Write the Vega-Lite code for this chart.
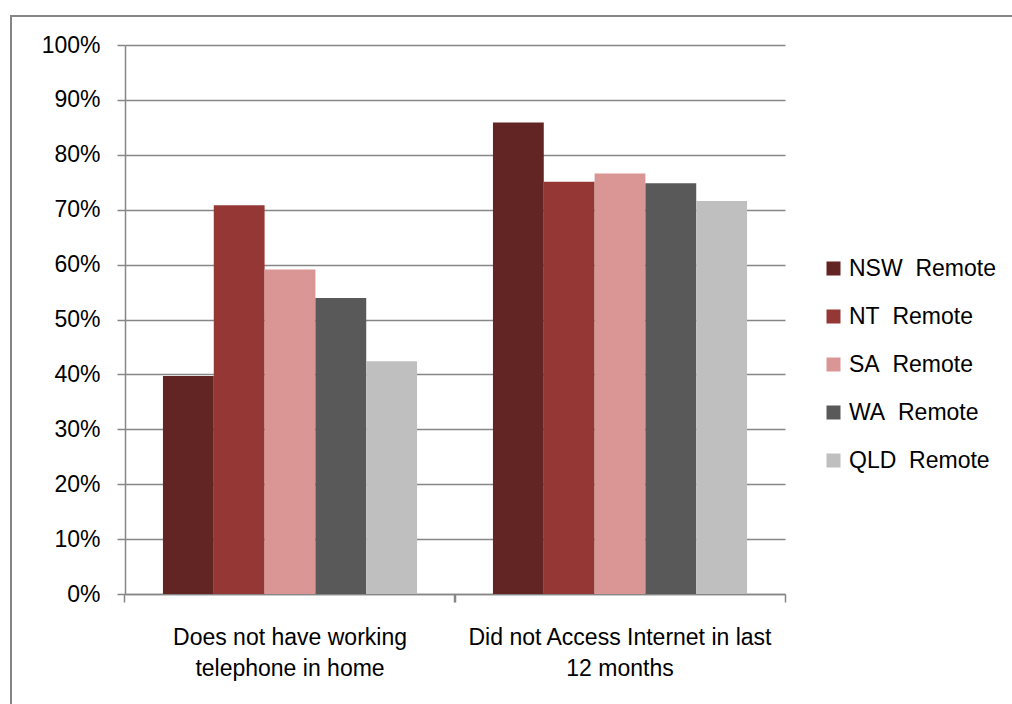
{
  "$schema": "https://vega.github.io/schema/vega-lite/v6.json",
  "width": 1010,
  "height": 700,
  "autosize": {"type": "none"},
  "padding": {"left": 11, "top": 16, "right": 0, "bottom": 0},
  "background": "white",
  "config": {
    "view": {"stroke": "#868686", "strokeWidth": 2},
    "font": "Liberation Sans"
  },
  "data": {
    "values": [
      {"category": "Does not have working|telephone in home", "state": "NSW\u00a0 Remote", "value": 0.397},
      {"category": "Does not have working|telephone in home", "state": "NT\u00a0 Remote", "value": 0.708},
      {"category": "Does not have working|telephone in home", "state": "SA\u00a0 Remote", "value": 0.591},
      {"category": "Does not have working|telephone in home", "state": "WA\u00a0 Remote", "value": 0.539},
      {"category": "Does not have working|telephone in home", "state": "QLD\u00a0 Remote", "value": 0.424},
      {"category": "Did not Access Internet in last|12 months", "state": "NSW\u00a0 Remote", "value": 0.859},
      {"category": "Did not Access Internet in last|12 months", "state": "NT\u00a0 Remote", "value": 0.751},
      {"category": "Did not Access Internet in last|12 months", "state": "SA\u00a0 Remote", "value": 0.766},
      {"category": "Did not Access Internet in last|12 months", "state": "WA\u00a0 Remote", "value": 0.748},
      {"category": "Did not Access Internet in last|12 months", "state": "QLD\u00a0 Remote", "value": 0.716}
    ]
  },
  "layer": [
    {
      "mark": {"type": "bar"},
      "encoding": {
        "x": {
          "field": "category",
          "type": "nominal",
          "sort": ["Does not have working|telephone in home", "Did not Access Internet in last|12 months"],
          "scale": {"range": [114, 774], "paddingInner": 0.23, "paddingOuter": 0.115},
          "axis": {
            "orient": "bottom",
            "offset": -122,
            "title": null,
            "labelExpr": "split(datum.label, '|')",
            "labelAngle": 0,
            "labelFontSize": 23,
            "labelLimit": 500,
            "labelColor": "#000000",
            "labelBaseline": "top",
            "labelPadding": 32,
            "labelLineHeight": 31,
            "ticks": false,
            "tickSize": 0,
            "grid": false,
            "domain": true,
            "domainColor": "#868686",
            "domainWidth": 1.5
          }
        },
        "xOffset": {
          "field": "state",
          "type": "nominal",
          "sort": ["NSW\u00a0 Remote", "NT\u00a0 Remote", "SA\u00a0 Remote", "WA\u00a0 Remote", "QLD\u00a0 Remote"],
          "scale": {"paddingInner": 0, "paddingOuter": 0}
        },
        "y": {
          "field": "value",
          "type": "quantitative",
          "scale": {"domain": [0, 1], "range": [578, 29], "nice": false, "zero": true},
          "axis": {
            "title": null,
            "orient": "left",
            "offset": -114,
            "values": [0, 0.1, 0.2, 0.3, 0.4, 0.5, 0.6, 0.7, 0.8, 0.9, 1],
            "format": ".0%",
            "labelFontSize": 23,
            "labelColor": "#000000",
            "labelPadding": 17,
            "tickSize": 8,
            "tickColor": "#868686",
            "tickWidth": 1.5,
            "domainColor": "#868686",
            "domainWidth": 1.5,
            "grid": true,
            "gridColor": "#868686",
            "gridWidth": 1.4,
            "gridOpacity": 1
          }
        },
        "color": {
          "field": "state",
          "type": "nominal",
          "sort": ["NSW\u00a0 Remote", "NT\u00a0 Remote", "SA\u00a0 Remote", "WA\u00a0 Remote", "QLD\u00a0 Remote"],
          "scale": {
            "domain": ["NSW\u00a0 Remote", "NT\u00a0 Remote", "SA\u00a0 Remote", "WA\u00a0 Remote", "QLD\u00a0 Remote"],
            "range": ["#632523", "#953735", "#D99694", "#595959", "#BFBFBF"]
          },
          "legend": {
            "title": null,
            "orient": "none",
            "legendX": 811,
            "legendY": 241,
            "symbolType": "square",
            "symbolSize": 196,
            "symbolStrokeWidth": 0,
            "labelFontSize": 23,
            "labelColor": "#000000",
            "labelOffset": 4,
            "rowPadding": 24,
            "labelLimit": 300
          }
        }
      }
    },
    {
      "mark": {"type": "bar", "opacity": 0},
      "encoding": {
        "x": {
          "field": "category",
          "type": "nominal",
          "sort": ["Does not have working|telephone in home", "Did not Access Internet in last|12 months"],
          "axis": {
            "orient": "bottom",
            "offset": -122,
            "title": null,
            "labels": false,
            "domain": false,
            "grid": false,
            "ticks": true,
            "tickSize": 8,
            "tickColor": "#868686",
            "tickWidth": 1.5,
            "bandPosition": -0.1496
          }
        }
      }
    },
    {
      "mark": {"type": "bar", "opacity": 0},
      "encoding": {
        "x": {
          "field": "category",
          "type": "nominal",
          "sort": ["Does not have working|telephone in home", "Did not Access Internet in last|12 months"],
          "axis": {
            "orient": "bottom",
            "offset": -122,
            "title": null,
            "labels": false,
            "domain": false,
            "grid": false,
            "ticks": true,
            "tickSize": 8,
            "tickColor": "#868686",
            "tickWidth": 1.5,
            "bandPosition": 1.1496
          }
        }
      }
    }
  ],
  "resolve": {"axis": {"x": "independent"}}
}
